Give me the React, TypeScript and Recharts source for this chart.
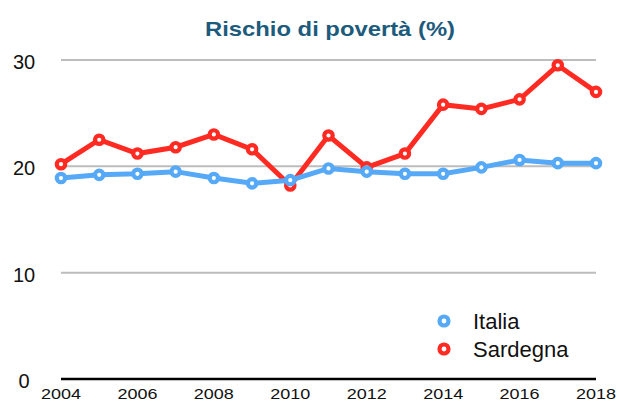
import React from "react";
import { LineChart, Line, XAxis, YAxis, CartesianGrid } from "recharts";

const years = [2004, 2005, 2006, 2007, 2008, 2009, 2010, 2011, 2012, 2013, 2014, 2015, 2016, 2017, 2018];
const italia = [18.9, 19.2, 19.3, 19.5, 18.9, 18.4, 18.7, 19.8, 19.5, 19.3, 19.3, 19.9, 20.6, 20.3, 20.3];
const sardegna = [20.2, 22.5, 21.2, 21.8, 23.0, 21.6, 18.2, 22.9, 19.9, 21.2, 25.8, 25.4, 26.3, 29.5, 27.0];
const xTicks = [2004, 2006, 2008, 2010, 2012, 2014, 2016, 2018];
const yTicks = [0, 10, 20, 30];
const title = "Rischio di povertà (%)";
const seriesNames = ["Italia", "Sardegna"];

const RED = "#ff2b22";
const BLUE = "#55a9f7";
const FONT = "'Liberation Sans', Arial, Helvetica, sans-serif";

const data = years.map((y, i) => ({ year: y, Italia: italia[i], Sardegna: sardegna[i] }));

const XTick = (props: any) => {
  const { x, payload } = props;
  return (
    <text
      x={x}
      y={399}
      textAnchor="middle"
      fontFamily={FONT}
      fontSize={15.5}
      fill="#111"
      textLength={40}
      lengthAdjust="spacingAndGlyphs"
    >
      {payload.value}
    </text>
  );
};

const YTick = (props: any) => {
  const { y, payload } = props;
  return (
    <text x={24} y={y + 9} textAnchor="middle" fontFamily={FONT} fontSize={20} fill="#111">
      {payload.value}
    </text>
  );
};

const Dot = (color: string) => (props: any) => {
  const { cx, cy, index } = props;
  return <circle key={index} cx={cx} cy={cy} r={4.2} fill="#fff" stroke={color} strokeWidth={4.2} />;
};

export default function App() {
  return (
    <div style={{ position: "absolute", left: 0, top: 0, width: 618, height: 403, background: "#fff" }}>
      <LineChart width={618} height={403} data={data} margin={{ top: 60, right: 22, left: 0, bottom: 0 }}>
        <CartesianGrid horizontal vertical={false} stroke="#bdbdbd" strokeWidth={2} />
        <XAxis
          dataKey="year"
          type="number"
          domain={[2004, 2018]}
          ticks={xTicks}
          tick={<XTick />}
          tickLine={false}
          axisLine={{ stroke: "#000", strokeWidth: 2.5 }}
          height={24}
          interval={0}
        />
        <YAxis
          type="number"
          domain={[0, 30]}
          ticks={yTicks}
          tick={<YTick />}
          tickLine={false}
          axisLine={false}
          width={61}
          interval={0}
        />
        <Line
          dataKey="Sardegna"
          stroke={RED}
          strokeWidth={5}
          dot={Dot(RED)}
          activeDot={false}
          isAnimationActive={false}
        />
        <Line
          dataKey="Italia"
          stroke={BLUE}
          strokeWidth={5}
          dot={Dot(BLUE)}
          activeDot={false}
          isAnimationActive={false}
        />
      </LineChart>
      <svg
        width={618}
        height={403}
        style={{ position: "absolute", left: 0, top: 0, pointerEvents: "none" }}
      >
        <text
          x={205}
          y={36}
          fontFamily={FONT}
          fontWeight="bold"
          fontSize={21}
          fill="#1d5b7c"
          textLength={250}
          lengthAdjust="spacingAndGlyphs"
        >
          {title}
        </text>
        <circle cx={444} cy={321} r={4.5} fill="#fff" stroke={BLUE} strokeWidth={4.2} />
        <text x={473} y={329} fontFamily={FONT} fontSize={22} fill="#111">
          {seriesNames[0]}
        </text>
        <circle cx={444} cy={349} r={4.5} fill="#fff" stroke={RED} strokeWidth={4.2} />
        <text x={473} y={357} fontFamily={FONT} fontSize={22} fill="#111">
          {seriesNames[1]}
        </text>
      </svg>
    </div>
  );
}
